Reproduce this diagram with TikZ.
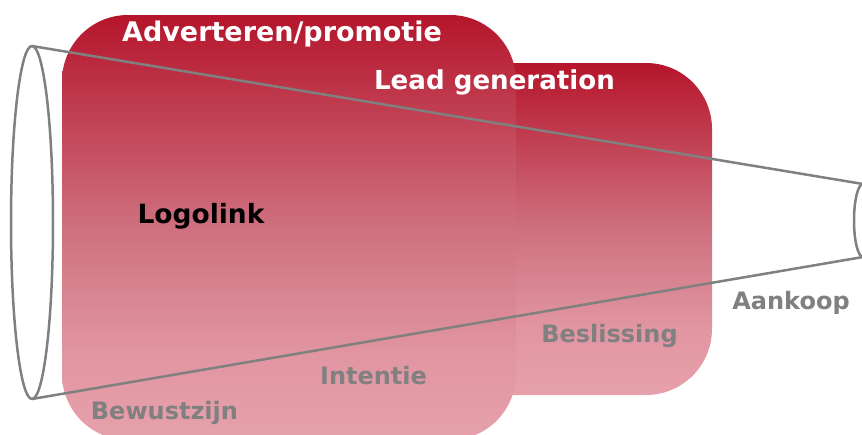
\documentclass[tikz,border=0pt]{standalone}
\usepackage{fontspec}
\setmainfont{DejaVu Sans}
\usetikzlibrary{shapes.geometric}
\definecolor{topred}{RGB}{181,21,43}
\definecolor{midrose}{RGB}{206,112,127}
\definecolor{lowrose}{RGB}{225,150,162}
\definecolor{botpink}{RGB}{230,161,171}
\definecolor{funnelgray}{RGB}{128,128,128}
\pgfdeclareverticalshading{blockfade}{100bp}{color(0bp)=(botpink); color(25bp)=(botpink); color(35bp)=(lowrose); color(50bp)=(midrose); color(75bp)=(topred); color(100bp)=(topred)}
\tikzset{
  x=1pt,y=-1pt,
  block/.style={rounded corners=66pt,shading=blockfade,draw=none},
  funnel/.style={draw=funnelgray,line width=2.5pt,line join=round},
  mouth/.style={ellipse,funnel,inner sep=0pt,outer sep=0pt},
  lightlabel/.style={font=\bfseries\fontsize{27}{31}\selectfont,text=white,inner sep=0pt},
  leadlabel/.style={font=\bfseries\fontsize{26.1}{31}\selectfont,text=white,inner sep=0pt},
  darklabel/.style={font=\bfseries\fontsize{26.5}{31}\selectfont,text=black,inner sep=0pt},
  greylabel/.style={font=\bfseries\fontsize{24}{28}\selectfont,text=funnelgray,inner sep=0pt},
}
\begin{document}
\begin{tikzpicture}
\useasboundingbox (0,0) rectangle (862,434);
\clip (0,0) rectangle (862,434);
\path[block] (420,63) rectangle (712,395);
\path[block] (62,15) rectangle (516,440);
\node[mouth,minimum width=42pt,minimum height=353pt] (big) at (32,222.5) {};
\node[mouth,minimum width=18pt,minimum height=73pt] (small) at (863,220.5) {};
\coordinate (bigtop) at (big.north);
\coordinate (bigbot) at (big.south);
\coordinate (smalltop) at (small.north);
\coordinate (smallbot) at (small.south);
\draw[funnel] (bigtop) -- (smalltop);
\draw[funnel] (bigbot) -- (smallbot);
\node[lightlabel] (adv) at (282,34.5) {Adverteren/promotie};
\node[leadlabel] (lead) at (494.5,82) {Lead generation};
\node[darklabel] (logo) at (201,216) {Logolink};
\node[greylabel] (aan) at (791,303) {Aankoop};
\node[greylabel] (bes) at (609.5,336) {Beslissing};
\node[greylabel] (int) at (373.5,375.5) {Intentie};
\node[greylabel] (bew) at (164.5,413) {Bewustzijn};
\end{tikzpicture}
\end{document}
